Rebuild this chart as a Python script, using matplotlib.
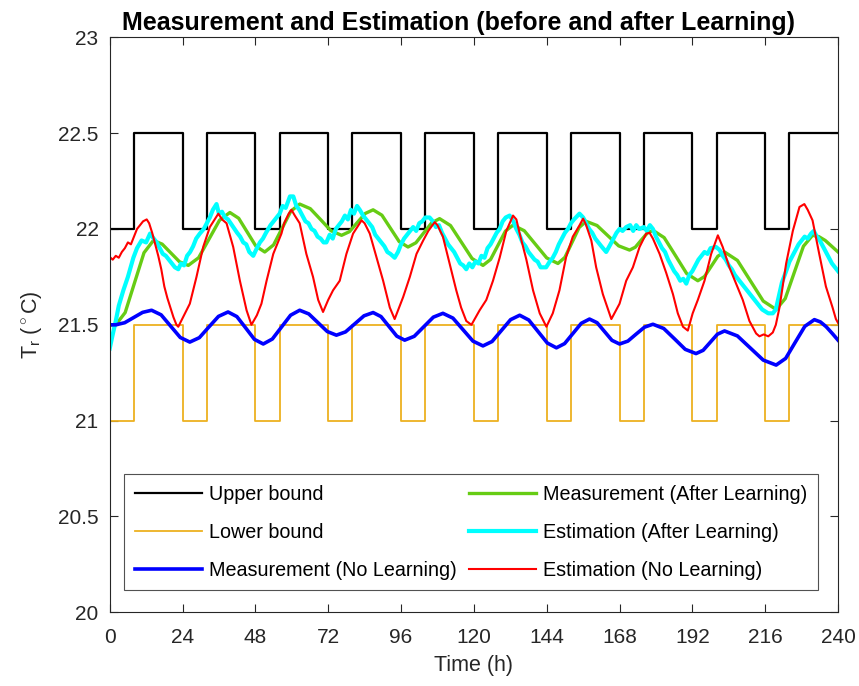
import matplotlib
matplotlib.use("Agg")
import matplotlib.pyplot as plt

plt.rcParams['font.family'] = ['Liberation Sans', 'DejaVu Sans']
plt.rcParams['mathtext.fontset'] = 'custom'
plt.rcParams['mathtext.rm'] = 'Liberation Sans'
plt.rcParams['mathtext.it'] = 'Liberation Sans'

# comfort bounds (switch times in hours)
t_switch = [0, 8, 24, 32, 48, 56, 72, 80, 96, 104, 120, 128, 144, 152, 168, 176, 192, 200, 216, 224, 240]
upper = [22, 22.5, 22, 22.5, 22, 22.5, 22, 22.5, 22, 22.5, 22, 22.5, 22, 22.5, 22, 22.5, 22, 22.5, 22, 22.5, 22.5]
lower = [21, 21.5, 21, 21.5, 21, 21.5, 21, 21.5, 21, 21.5, 21, 21.5, 21, 21.5, 21, 21.5, 21, 21.5, 21, 21.5, 21.5]

# Measurement (No Learning)
t_blue = [0, 2, 4.95, 7.9, 10.85, 13.8, 16.95, 20.1, 23.25, 26.4, 29.55, 32.7, 35.85, 39,
          41.9, 44.8, 47.7, 50.6, 53.6, 56.6, 59.6, 62.6, 65.6, 68.65, 71.7, 74.7,
          77.7, 80.75, 83.8, 86.8, 89.4, 92.0, 94.6, 97.2, 100.35, 103.5, 106.65, 109.8,
          113.1, 116.4, 119.7, 123, 126.0, 129.05, 132.1, 135.1, 138.1, 141.15, 144.2, 147.2,
          149.9, 152.65, 155.4, 158.1, 160.6, 163.05, 165.5, 168, 170.75, 173.5, 176.25, 179,
          182.55, 186.1, 189.65, 193.2, 195.55, 197.9, 200.25, 202.6, 206.85, 211.1, 215.35, 219.6,
          222.75, 225.9, 229.05, 232.2, 234.2, 236.1, 238.1, 240]
blue = [21.50, 21.50, 21.511, 21.538, 21.565, 21.576, 21.552, 21.493, 21.434, 21.41, 21.433, 21.489, 21.544, 21.567,
        21.543, 21.484, 21.424, 21.40, 21.426, 21.488, 21.55, 21.576, 21.557, 21.511, 21.465, 21.446,
        21.463, 21.505, 21.547, 21.564, 21.543, 21.492, 21.441, 21.42, 21.44, 21.49, 21.54, 21.56,
        21.535, 21.475, 21.415, 21.39, 21.413, 21.47, 21.527, 21.55, 21.525, 21.465, 21.405, 21.38,
        21.402, 21.455, 21.508, 21.53, 21.511, 21.465, 21.419, 21.40, 21.415, 21.452, 21.488, 21.503,
        21.481, 21.427, 21.372, 21.35, 21.367, 21.409, 21.451, 21.468, 21.442, 21.379, 21.316, 21.29,
        21.325, 21.409, 21.492, 21.527, 21.515, 21.49, 21.455, 21.42]

# Measurement (After Learning)
t_green = [0, 2, 5.1, 8.2, 11.3, 14.4, 17.3, 20.15, 23.0, 25.9, 29.3, 32.75, 36.2, 39.6,
           42.5, 45.35, 48.2, 51.1, 54.0, 56.85, 59.7, 62.6, 66.1, 69.5, 72.9, 76.4,
           79.0, 81.6, 84.2, 86.8, 89.7, 92.55, 95.4, 98.3, 100.9, 103.5, 106.1, 108.7,
           112.3, 115.85, 119.4, 123, 125.5, 127.95, 130.4, 132.9, 136.6, 140.3, 144.0, 147.7,
           150.0, 152.35, 154.7, 157, 160.6, 164.15, 167.7, 171.3, 173.2, 175.15, 177.1, 179,
           182.7, 186.4, 190.1, 193.8, 196.0, 198.2, 200.4, 202.6, 206.85, 211.1, 215.35, 219.6,
           222.6, 225.6, 228.6, 231.6, 233.7, 235.8, 237.9, 240]
green = [21.50, 21.50, 21.564, 21.72, 21.876, 21.94, 21.921, 21.875, 21.829, 21.81, 21.85, 21.948, 22.046, 22.086,
         22.056, 21.983, 21.91, 21.88, 21.917, 22.005, 22.093, 22.13, 22.106, 22.049, 21.991, 21.967,
         21.986, 22.034, 22.081, 22.10, 22.072, 22.003, 21.934, 21.906, 21.928, 21.98, 22.032, 22.054,
         22.018, 21.932, 21.846, 21.81, 21.841, 21.915, 21.989, 22.02, 21.991, 21.92, 21.849, 21.82,
         21.852, 21.93, 22.008, 22.04, 22.018, 21.965, 21.912, 21.89, 21.905, 21.942, 21.978, 21.993,
         21.955, 21.862, 21.768, 21.73, 21.752, 21.805, 21.858, 21.88, 21.836, 21.73, 21.624, 21.58,
         21.637, 21.774, 21.91, 21.967, 21.96, 21.94, 21.91, 21.88]

# Estimation (After Learning)
t_cyan = [0, 1, 2, 3, 4.5, 6, 7.8, 9, 10.5, 12, 13.3, 14.5, 15.5, 16.5, 17.5, 18.5, 19.5, 20.5, 21.5, 22.6,
          23.5, 24.5, 25.5, 26.5, 27.5, 28.5, 29.7, 31, 32, 33, 34, 35.2, 36, 37, 38, 39, 40.7, 42, 43, 44,
          45, 46, 47.3, 48.5, 49.5, 50.5, 51.5, 53, 54.5, 56, 57, 58, 59.4, 60.5, 61.5, 62.5, 63.5, 64.5, 65.5, 66.5,
          67.5, 68.5, 69.5, 70.5, 71.4, 72.5, 73.5, 74.5, 75.5, 76.5, 77.5, 78.5, 79.5, 80.5, 81.5, 82.4, 83.5, 84.5, 85.5, 86.5,
          87.5, 88.5, 89.5, 90.5, 91.5, 92.5, 93.9, 95, 96, 97, 98, 99, 100, 101, 102, 103, 104, 105.4, 106.5, 107.5,
          108.5, 109.5, 110.5, 111.5, 112.5, 113.5, 114.5, 115.5, 116.5, 117.5, 118.5, 119.5, 120.5, 121.5, 122.5, 123.5, 124.5, 125.5, 126.5, 127.5,
          128.5, 129.5, 130.5, 131.8, 133, 134, 135, 136, 137, 138, 139, 140, 141, 142, 143.8, 145, 146, 147, 148, 149,
          150, 151, 152, 153, 154.8, 156, 157, 158, 159, 160, 161, 162, 163.6, 165, 166, 167, 168, 169, 170.2, 171.5,
          172.5, 173.5, 174.5, 176, 177, 178, 179, 180, 181, 182, 183, 184, 185, 186, 187, 188, 189, 190, 191, 192,
          193, 194, 195, 196, 197, 198, 199.8, 201, 202, 203, 204, 205, 206, 207, 208, 209, 210, 211, 212, 213,
          214, 215, 216, 217, 218.5, 219.5, 220.5, 221.5, 222.9, 224, 225, 226, 227, 228, 229, 230, 231.1, 232, 233, 234,
          235, 236, 237, 238, 239, 240]
cyan = [21.376, 21.45, 21.52, 21.60, 21.68, 21.75, 21.85, 21.90, 21.94, 21.93, 21.976, 21.95, 21.93, 21.90, 21.87, 21.86, 21.84, 21.82, 21.80, 21.79,
        21.82, 21.81, 21.86, 21.88, 21.91, 21.95, 21.976, 22.00, 22.03, 22.06, 22.10, 22.13, 22.08, 22.09, 22.06, 22.05, 22.01, 21.98, 21.96, 21.93,
        21.92, 21.88, 21.86, 21.90, 21.93, 21.95, 21.98, 22.02, 22.05, 22.08, 22.12, 22.11, 22.17, 22.17, 22.12, 22.10, 22.07, 22.04, 22.03, 22.00,
        21.99, 21.96, 21.95, 21.93, 21.93, 21.97, 21.95, 22.00, 22.02, 22.04, 22.07, 22.05, 22.10, 22.08, 22.12, 22.10, 22.07, 22.05, 22.03, 22.01,
        21.97, 21.95, 21.93, 21.91, 21.88, 21.87, 21.85, 21.88, 21.92, 21.95, 21.97, 21.99, 22.01, 21.99, 22.03, 22.04, 22.06, 22.06, 22.04, 22.01,
        22.02, 21.98, 21.95, 21.92, 21.90, 21.88, 21.85, 21.82, 21.81, 21.79, 21.82, 21.80, 21.83, 21.82, 21.86, 21.85, 21.90, 21.92, 21.95, 21.98,
        22.00, 22.04, 22.06, 22.07, 22.04, 22.00, 21.97, 21.93, 21.91, 21.88, 21.86, 21.84, 21.83, 21.80, 21.80, 21.83, 21.85, 21.88, 21.92, 21.95,
        21.98, 22.00, 22.03, 22.05, 22.08, 22.06, 22.03, 22.00, 21.98, 21.95, 21.93, 21.91, 21.88, 21.92, 21.95, 21.98, 22.00, 21.99, 22.01, 22.02,
        21.99, 22.02, 22.00, 22.01, 21.99, 22.02, 22.00, 21.96, 21.93, 21.90, 21.88, 21.84, 21.81, 21.78, 21.76, 21.73, 21.74, 21.715, 21.76, 21.78,
        21.81, 21.84, 21.86, 21.88, 21.87, 21.90, 21.906, 21.89, 21.86, 21.84, 21.81, 21.79, 21.76, 21.74, 21.72, 21.70, 21.68, 21.66, 21.64, 21.62,
        21.60, 21.58, 21.57, 21.56, 21.56, 21.58, 21.65, 21.72, 21.78, 21.83, 21.86, 21.89, 21.92, 21.94, 21.96, 21.95, 21.976, 21.99, 21.96, 21.94,
        21.91, 21.88, 21.85, 21.82, 21.80, 21.78]

# Estimation (No Learning)
t_red = [0, 1, 2, 3, 4, 5, 6, 7, 8, 9, 10, 11, 12.2, 13, 14, 15, 16, 17, 18, 19, 20, 21, 22, 22.6,
         24.2, 26.4, 28.6, 30.8, 33, 35.8, 37, 38.5, 40.7, 42.9, 45.1, 46.7, 48.5, 50, 51.7, 53.9, 56.6, 57.5, 59, 59.9,
         61, 62.6, 64.8, 67, 68.7, 70.3, 72, 73.6, 75.8, 78, 80.2, 82, 83, 84, 85.7, 87.9, 90.1, 92.3, 93.9,
         96.7, 98.9, 101.1, 103.3, 105, 107.1, 108, 109.8, 112, 114.2, 115.8, 117.5, 119.2,
         121.9, 124.1, 126.3, 128.5, 130.7, 132.9, 134, 135.1, 137.3, 139.5, 141.7, 143.9,
         146, 148.2, 150.4, 152.6, 154.5, 156, 157, 158.7, 160.3, 162.5, 165.3,
         168, 170.2, 172.4, 174.6, 176.8, 177.9, 179, 181.2, 183.4, 185.6, 187.2, 188.9, 190.5,
         192.1, 193.8, 196, 198.2, 200.4, 202, 204.2, 206.4, 208.6, 210.8, 213, 214.1, 215.5, 217, 218.5,
         219.5, 220.7, 222.9, 225.1, 227.3, 228.9, 230, 231.6, 233.8, 236, 238.2, 239.3, 240]
red = [21.854, 21.84, 21.86, 21.85, 21.88, 21.90, 21.93, 21.92, 21.96, 22.00, 22.02, 22.04, 22.05, 22.03, 21.98, 21.92, 21.86, 21.79, 21.70, 21.64, 21.59, 21.54, 21.50, 21.49,
       21.54, 21.61, 21.75, 21.906, 22.01, 22.08, 22.05, 22.03, 21.906, 21.73, 21.576, 21.50, 21.55, 21.61, 21.73, 21.87, 21.976, 22.03, 22.08, 22.10,
       22.07, 22.03, 21.87, 21.75, 21.63, 21.567, 21.63, 21.68, 21.73, 21.87, 21.976, 22.02, 22.045, 22.03, 21.976, 21.854, 21.73, 21.59, 21.53,
       21.645, 21.75, 21.87, 21.94, 21.99, 22.036, 22.02, 21.96, 21.82, 21.68, 21.59, 21.52, 21.50,
       21.576, 21.63, 21.73, 21.85, 21.99, 22.07, 22.05, 21.976, 21.84, 21.68, 21.56, 21.49,
       21.56, 21.68, 21.854, 21.96, 22.01, 22.054, 22.02, 21.94, 21.80, 21.66, 21.53,
       21.61, 21.73, 21.80, 21.906, 21.976, 21.98, 21.95, 21.87, 21.77, 21.66, 21.56, 21.49, 21.47,
       21.56, 21.63, 21.73, 21.87, 21.967, 21.906, 21.80, 21.715, 21.63, 21.52, 21.455, 21.44, 21.45, 21.44, 21.46,
       21.50, 21.59, 21.82, 21.99, 22.115, 22.13, 22.10, 22.045, 21.87, 21.70, 21.59, 21.53, 21.51]

fig = plt.figure(figsize=(8.59, 6.86), dpi=100)
ax = fig.add_axes([0.1277, 0.1074, 0.8479, 0.8382])

l1, = ax.step(t_switch, upper, where='post', color='black', lw=1.6, label='Upper bound')
l2, = ax.step(t_switch, lower, where='post', color='#EDB120', lw=1.3, label='Lower bound')
l4, = ax.plot(t_green, green, color='#66CC14', lw=2.4, label='Measurement (After Learning)')
l5, = ax.plot(t_cyan, cyan, color='#00FFFF', lw=3.0, label='Estimation (After Learning)')
l3, = ax.plot(t_blue, blue, color='#0000FF', lw=2.6, label='Measurement (No Learning)')
l6, = ax.plot(t_red, red, color='#FF0000', lw=1.5, label='Estimation (No Learning)')

ax.set_xlim(0, 240)
ax.set_ylim(20, 23)
ax.set_xticks(range(0, 241, 24))
ax.set_yticks([20, 20.5, 21, 21.5, 22, 22.5, 23])
ax.set_yticklabels(['20', '20.5', '21', '21.5', '22', '22.5', '23'])
ax.tick_params(direction='in', length=6, width=0.8, top=True, right=True,
               labelsize=15, colors='#262626')
ax.tick_params(axis='y', pad=8)
ax.tick_params(axis='x', pad=11)
for s in ax.spines.values():
    s.set_color('#262626')
    s.set_linewidth(0.8)

ax.set_xlabel('Time (h)', fontsize=15.5, color='#262626', labelpad=6)
ax.set_ylabel(r'T$_\mathregular{r}$ ($^\circ$C)', fontsize=15.5, color='#262626', labelpad=10)
ax.set_title('Measurement and Estimation (before and after Learning)',
             fontsize=18, fontweight='bold', pad=5, x=0.479)

leg = ax.legend(handles=[l1, l2, l3, l4, l5, l6], ncol=2, loc='lower left',
                bbox_to_anchor=(0.02, 0.038, 0.953, 0.204), mode='expand',
                fontsize=14.2, frameon=True, fancybox=False, edgecolor='#262626',
                handlelength=3.4, handletextpad=0.35, borderaxespad=0,
                labelspacing=0.95, columnspacing=1.0, borderpad=0.55)
leg.get_frame().set_linewidth(0.8)

fig.savefig('out.png', dpi=100)
